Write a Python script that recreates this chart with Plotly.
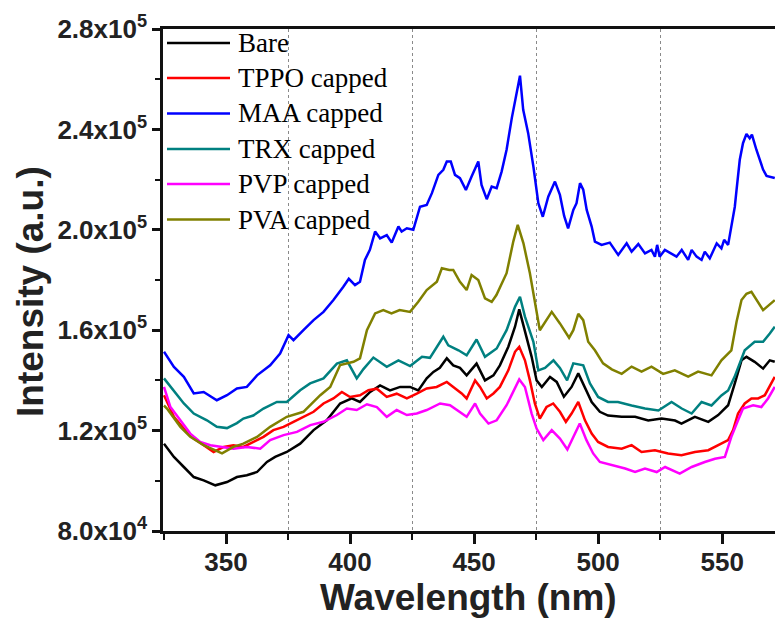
import plotly.graph_objects as go

# ---------------- data (wavelength nm, intensity in 10^3 a.u.) ----------------
bare_wl = [325, 329, 333, 337, 341, 345.7, 350.4, 354.4, 358.4, 362.5, 366.5, 369.8, 374.5, 379.9, 385.3, 390.6, 396, 400.7, 404, 408.1, 412.1, 416.1, 420.2, 424.2, 427.5, 430.9, 433.6, 436.2, 439, 441.6, 444.3, 447, 451, 454.4, 457.8, 460.4, 463.8, 466.5, 468.2, 470.5, 473.2, 475.2, 477.3, 480.6, 483.3, 486.2, 489.3, 492, 494.6, 497.4, 500.7, 504, 509.5, 514.9, 520.2, 525.6, 531, 533.6, 539, 544.4, 548.4, 552.4, 555.1, 557.8, 559.8, 563.1, 566.5, 569.2, 571.2]
bare_val = [114.8, 109.5, 105.5, 101.5, 100.2, 98.2, 99.5, 101.5, 102.2, 103.5, 107.5, 109.5, 111.5, 114.8, 120.2, 124.1, 130.8, 132.8, 131.4, 135.4, 138, 136, 137.4, 137.4, 136, 140.8, 143.4, 145, 148.8, 146, 145, 142, 146.7, 140, 142, 146, 153.4, 161.4, 168.3, 160, 149.4, 140, 137.4, 141.4, 139.4, 133.5, 137.4, 142.8, 137.4, 131.4, 127.5, 126, 125.5, 125.5, 124, 124.8, 124, 122.8, 125.5, 123.5, 126.2, 130.1, 138.8, 148, 149.4, 147.4, 144.7, 148, 147.4]

tppo_wl = [325, 329, 333, 337, 341, 345, 349.1, 353, 357, 361.1, 365.1, 369.1, 373.2, 377.2, 381.2, 385.3, 389.3, 393.3, 396.7, 400, 404, 407.4, 410.8, 414.8, 418.8, 422.9, 426.9, 430.9, 434.9, 439, 441.6, 445, 447, 450.4, 452.4, 455.1, 457.8, 460.4, 463.8, 466.5, 468.2, 470.5, 472.5, 474.5, 476.5, 479.2, 481.9, 484.6, 487, 489.3, 492, 494.7, 497.4, 500, 504, 509.5, 513.5, 517.5, 522.9, 528.2, 533.6, 539, 544.4, 548.4, 552.4, 554.4, 556.4, 559.1, 561.8, 564.5, 567.2, 571.2]
tppo_val = [134.1, 125.5, 120.8, 116.8, 114.2, 111.5, 113.5, 114.2, 113.5, 115.5, 117.5, 120.2, 121.5, 123.5, 125.5, 127.5, 130.8, 132.8, 135.4, 133.4, 134.1, 136.1, 136.7, 133.4, 134.7, 132.8, 134.7, 136.8, 137.4, 139.4, 137.4, 134.8, 132.8, 140, 137.4, 132.8, 134.8, 137.4, 144, 151.4, 153.4, 148, 140, 130.8, 124.8, 129.4, 130.8, 127.5, 123.5, 126.8, 131.4, 124.1, 118.8, 115.5, 113.5, 112.8, 114.2, 111.5, 112.2, 110.9, 110.2, 111.5, 112.2, 114.2, 116.2, 120.2, 126.8, 130.8, 132.8, 132.8, 134.1, 141.4]

maa_wl = [325, 329, 333, 337, 341, 346.3, 350.4, 354.4, 358.4, 362.5, 367.8, 371.8, 375.2, 377.2, 381.2, 385.3, 389.3, 393.3, 397.3, 399.5, 402, 404, 406, 408, 410.1, 412.1, 414.8, 416.8, 419.5, 420.8, 422.9, 425.5, 428.2, 430.9, 433, 435.6, 437.6, 439, 440.6, 442.3, 444.3, 446.7, 449, 451.7, 453, 455.1, 457.1, 459.1, 461.1, 463.1, 465.2, 467.2, 468.5, 469.8, 471.8, 473.9, 475.9, 477.7, 479.9, 482.6, 484.6, 486.3, 487.9, 490, 491.3, 492.7, 494, 495.4, 497.4, 498.7, 501.4, 504.7, 508.1, 511.5, 513.5, 516.2, 518.9, 521.5, 522.9, 523.8, 524.8, 526.9, 529.6, 531.6, 533.7, 536.3, 537.7, 539.7, 541.7, 543, 545, 547.8, 549.7, 550.8, 552.4, 553.8, 555.1, 555.8, 557.1, 558.4, 559.8, 561.1, 562, 563.8, 565.2, 566.5, 567.9, 571.2]
maa_val = [151.4, 145.4, 141.4, 134.8, 135.4, 132.1, 134.1, 136.8, 137.4, 142, 146, 150.7, 158, 156, 160, 164, 167.3, 172, 177.3, 180.5, 178, 179.3, 188, 192, 199.3, 196.6, 197.9, 194.9, 201.3, 199.3, 200.6, 200, 209.2, 209.9, 214.6, 221.9, 223.9, 227.2, 227.2, 221.9, 220.6, 215.9, 221.2, 227.2, 217.9, 212.2, 217.2, 216.6, 223.2, 231.9, 244.5, 254.5, 261.4, 247.8, 238.5, 225.2, 210.6, 205.2, 213.2, 219.2, 213.9, 205.5, 200.6, 207.9, 210.6, 218.6, 216, 207.9, 201.3, 195.3, 194, 194.9, 190, 194.6, 191.3, 194.3, 190.6, 192, 189.3, 194, 189.3, 192, 190.6, 189.3, 192, 188, 192, 189.3, 188, 191.3, 188.6, 194.6, 192.6, 196, 194, 202.6, 209.2, 215.9, 227.9, 234.5, 238.2, 236.5, 237.9, 231.9, 227.9, 224, 221.5, 220.6]

trx_wl = [325, 328.9, 333, 337, 342.3, 346.3, 350.4, 354.4, 357, 361, 365.1, 370.5, 374.5, 379.9, 383.9, 389.3, 394.7, 398.7, 402.7, 405.4, 409.4, 414.8, 419.5, 424.2, 429, 432.2, 435, 437.6, 439.6, 443.7, 447, 451, 454.4, 459.1, 463.1, 466.5, 468.5, 470.5, 473.9, 475.9, 478.6, 482, 484.6, 487.5, 490, 494, 496.7, 500, 504, 508, 513.5, 518.9, 524.3, 529.6, 533.7, 537.7, 541.7, 545.7, 549.7, 552.4, 555, 559.1, 563.1, 566.5, 569.2, 571.2]
trx_val = [140.8, 136, 130.8, 126.8, 124.1, 121.5, 121, 123, 124.8, 126, 128.8, 131.4, 131.4, 136.1, 138.8, 140.8, 146.7, 148, 140.8, 144.5, 149.1, 145.4, 148, 145.7, 149.4, 149, 153.4, 157.4, 154, 152, 150, 156.3, 149.4, 152.7, 160, 169.3, 173.3, 165.4, 155.4, 144, 145, 148, 145, 140, 146.8, 146, 138.8, 133.4, 131.4, 131.4, 130, 128.8, 128, 131.4, 128.8, 126.8, 131.4, 130, 134, 136, 141.4, 152, 155.4, 155.4, 158.7, 161.4]

pvp_wl = [325, 327.6, 331.6, 335.6, 339.6, 343.7, 348.4, 353, 358.4, 363.8, 367.8, 373.2, 378.6, 384, 389.3, 394.7, 398.7, 402.7, 406.8, 410.8, 414.8, 418.8, 422.9, 426.9, 430.9, 436.3, 440.3, 444.3, 447, 450.4, 452.4, 455.8, 459.1, 463.1, 466.5, 468.2, 470.5, 473.2, 475.2, 477.9, 481.3, 484.6, 487.6, 489.3, 492.6, 495.3, 498, 500.7, 505.5, 510.9, 514.9, 518.9, 523.6, 527, 532.9, 537.7, 543, 547.1, 551.1, 553.7, 556.4, 558.4, 562.5, 565.8, 568.5, 571.2]
pvp_val = [137.4, 129.4, 124.1, 118.8, 115.5, 114.2, 113.5, 112.8, 113.5, 112.8, 116.2, 118.2, 119.5, 122.2, 123.5, 126.2, 128.8, 128.2, 130.5, 129.4, 125.5, 128.2, 126.2, 126.8, 128.2, 130.8, 130.1, 127.5, 125.5, 130.8, 126.8, 122.8, 124.1, 130.1, 137.4, 140.4, 137.4, 126.8, 120.8, 116.2, 120.2, 116.8, 112.5, 116.2, 122.8, 116.2, 110.9, 107.5, 106.2, 104.9, 103.5, 104.9, 103.5, 105.5, 102.9, 105.5, 107.5, 108.8, 109.5, 117.5, 124.1, 128.8, 130.1, 129.4, 132.8, 137.4]

pva_wl = [325, 326.2, 331.6, 335.6, 341, 348.4, 353, 357, 362.5, 367.8, 374.5, 381.2, 388, 392, 396, 401.4, 404, 406.8, 410.1, 413.4, 416.7, 420, 424.2, 427.5, 430.9, 435, 437, 440, 441.6, 444.3, 447, 449, 451.7, 454.4, 457.1, 459, 463.1, 465.8, 467.6, 469.9, 472.5, 474.5, 476.5, 481.3, 484.6, 488.3, 490, 492, 494, 496, 498.7, 502, 505.5, 509.5, 513.5, 517.5, 521.5, 526.2, 530.9, 536.3, 540.3, 545.7, 549.7, 553.7, 555.8, 557.8, 559.8, 561.8, 563.8, 566.5, 571.2]
pva_val = [130, 128.8, 121.5, 117.5, 114.2, 110.9, 113.5, 114.8, 117.5, 121.5, 125.5, 127.5, 134.1, 137.4, 146.1, 147.4, 148.8, 160, 166.7, 168, 166.7, 168, 167.3, 171.3, 176, 179.3, 184.7, 184, 184, 179.3, 176, 182, 180, 172.7, 171.3, 174, 182.7, 195.3, 202, 194.6, 182.7, 172, 160, 167.3, 162.7, 157, 160, 166.5, 164, 155.4, 152, 146.8, 144.4, 142.6, 145.5, 143.5, 145.5, 142.6, 144, 141.5, 143.5, 142, 148, 152, 163.4, 172, 174.5, 175.3, 172, 168, 172]

series_names = ["Bare", "TPPO capped", "MAA capped", "TRX capped", "PVP capped", "PVA capped"]
series_colors = ["#000000", "#ff0000", "#0000ff", "#008080", "#ff00ff", "#808000"]
series_x = [bare_wl, tppo_wl, maa_wl, trx_wl, pvp_wl, pva_wl]
series_y = [bare_val, tppo_val, maa_val, trx_val, pvp_val, pva_val]

y_tickvals = [80000, 120000, 160000, 200000, 240000, 280000]
y_ticktext = ["8.0x10<sup>4</sup>", "1.2x10<sup>5</sup>", "1.6x10<sup>5</sup>",
              "2.0x10<sup>5</sup>", "2.4x10<sup>5</sup>", "2.8x10<sup>5</sup>"]
x_tickvals = [350, 400, 450, 500, 550]

# ---------------- layout geometry (pixels) ----------------
W, H = 775, 620
ML, MR, MT, MB = 163, 0, 29, 89
PW, PH = W - ML - MR, H - MT - MB

def px_x(p):
    return (p - ML) / PW

def px_y(p):
    return (H - MB - p) / PH

fig = go.Figure()
for name, col, xs, ys in zip(series_names, series_colors, series_x, series_y):
    fig.add_trace(go.Scatter(x=xs, y=[v * 1000 for v in ys], mode="lines", name=name,
                             line=dict(color=col, width=2.5), showlegend=False))

tickfont = dict(family="Liberation Sans, Arial", size=26, color="#222222", weight="bold")

fig.update_layout(
    width=W, height=H,
    margin=dict(l=ML, r=MR, t=MT, b=MB),
    paper_bgcolor="white", plot_bgcolor="white",
    xaxis=dict(range=[324.6, 571.3], tickvals=x_tickvals, ticks="outside", ticklen=10,
               tickwidth=2.5, tickcolor="#111", showline=True, linewidth=2.5, linecolor="#111",
               mirror=True, showgrid=False, zeroline=False, tickfont=tickfont,
               ticklabelstandoff=-4,
               minor=dict(tickvals=[325, 375, 425, 475, 525], ticks="outside", ticklen=6,
                          tickwidth=2, tickcolor="#111", showgrid=True, gridcolor="#8a8a8a",
                          griddash="dot", gridwidth=1)),
    yaxis=dict(range=[80000, 280000], tickvals=y_tickvals, ticktext=y_ticktext, ticks="outside",
               ticklen=8, tickwidth=2.5, tickcolor="#111", showline=True, linewidth=2.5,
               linecolor="#111", showgrid=False, zeroline=False, tickfont=tickfont,
               minor=dict(dtick=20000, ticks="outside", ticklen=5, tickwidth=2, tickcolor="#111",
                          showgrid=False)),
)

# axis titles
fig.add_annotation(text="<b>Wavelength (nm)</b>", xref="paper", yref="paper",
                   x=px_x(468), y=px_y(598), xanchor="center", yanchor="middle", showarrow=False,
                   font=dict(family="Liberation Sans, Arial", size=37, color="#222222"))
fig.add_annotation(text="<b>Intensity (a.u.)</b>", xref="paper", yref="paper",
                   x=px_x(30), y=px_y(292), xanchor="center", yanchor="middle", showarrow=False,
                   textangle=-90,
                   font=dict(family="Liberation Sans, Arial", size=37, color="#222222"))

# legend (drawn manually to match long line samples)
legend_rows = [43, 78, 113.5, 149, 184, 219.5]
for name, col, ry in zip(series_names, series_colors, legend_rows):
    fig.add_shape(type="line", xref="paper", yref="paper", x0=px_x(167), x1=px_x(230),
                  y0=px_y(ry), y1=px_y(ry), line=dict(color=col, width=2.6))
    fig.add_annotation(text=name, xref="paper", yref="paper", x=px_x(236), y=px_y(ry),
                       xanchor="left", yanchor="middle", showarrow=False,
                       font=dict(family="Liberation Serif, Times New Roman", size=27, color="#000"))

fig.write_html("out.html")
